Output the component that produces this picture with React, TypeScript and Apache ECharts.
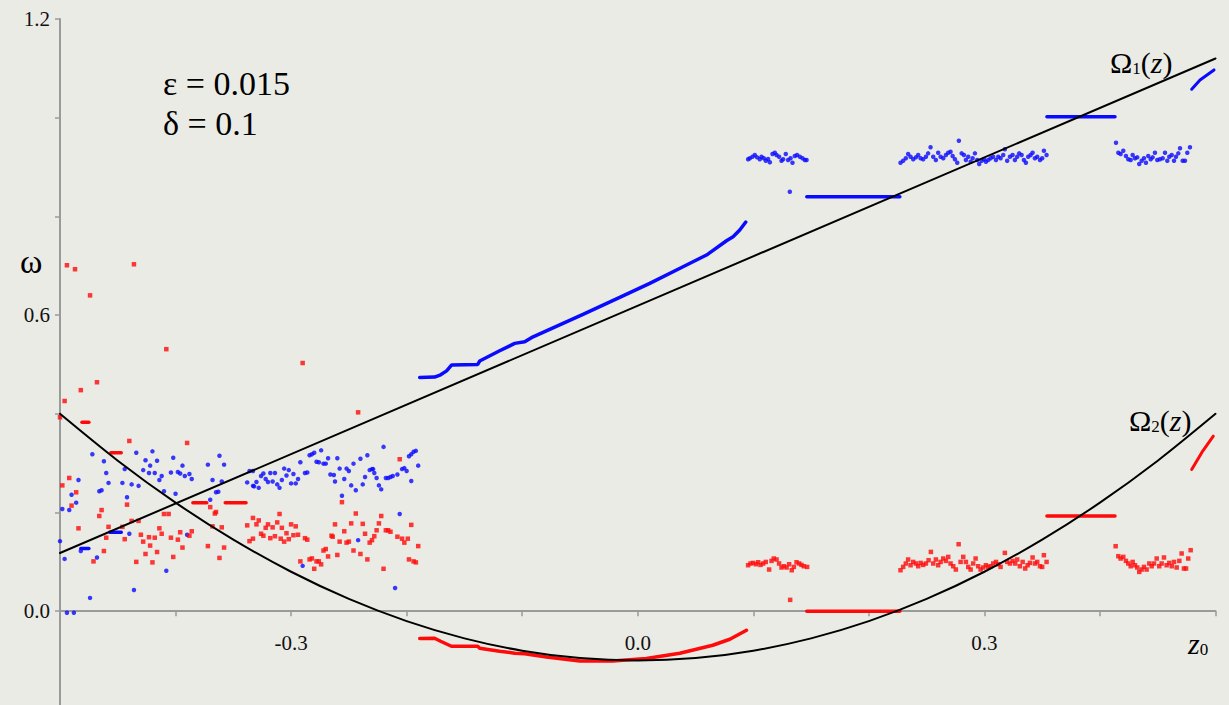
import React, { useEffect, useRef } from "react";
import * as echarts from "echarts";

type P = [number, number];
type Seg = [number, number, number];

// ---------- axes ----------
const xTicks = [-0.4, -0.3, -0.2, -0.1, 0, 0.1, 0.2, 0.3, 0.4, 0.5];
const xLabels = [-0.3, 0, 0.3];
const yTicks = [0, 0.2, 0.4, 0.6, 0.8, 1.0, 1.2];
const yLabels = [0, 0.6, 1.2];
const Y_MIN = -0.19;
const Y_MAX = 1.2;

// ---------- theoretical curves ----------
const omega1: P[] = [[-0.5, 0.118], [0.5, 1.12]];
const omega2: P[] = [
  [-0.5, 0.4], [-0.45, 0.305], [-0.4, 0.22], [-0.35, 0.145], [-0.3, 0.08], [-0.25, 0.025],
  [-0.2, -0.02], [-0.15, -0.055], [-0.1, -0.08], [-0.05, -0.095], [0, -0.1], [0.05, -0.095],
  [0.1, -0.08], [0.15, -0.055], [0.2, -0.02], [0.25, 0.025], [0.3, 0.08], [0.35, 0.145],
  [0.4, 0.22], [0.45, 0.305], [0.5, 0.4],
];

// ---------- blue (omega 1) ----------
const blueLeft: P[] = [
  [-0.494, -0.003], [-0.488, -0.003], [-0.474, 0.027], [-0.436, 0.043], [-0.408, 0.082], [-0.496, 0.106],
  [-0.468, 0.109], [-0.5, 0.142], [-0.482, 0.122], [-0.44, 0.157], [-0.39, 0.155], [-0.498, 0.207],
  [-0.492, 0.205], [-0.486, 0.22], [-0.49, 0.236], [-0.466, 0.243], [-0.464, 0.245], [-0.442, 0.231],
  [-0.4, 0.238], [-0.41, 0.243], [-0.37, 0.226], [-0.365, 0.241], [-0.363, 0.242], [-0.36, 0.263],
  [-0.368, 0.266], [-0.338, 0.261], [-0.333, 0.254], [-0.484, 0.266], [-0.458, 0.26], [-0.446, 0.26],
  [-0.438, 0.257], [-0.432, 0.254], [-0.414, 0.266], [-0.386, 0.268], [-0.46, 0.28], [-0.444, 0.288],
  [-0.428, 0.286], [-0.423, 0.28], [-0.418, 0.28], [-0.412, 0.274], [-0.404, 0.281], [-0.398, 0.282],
  [-0.396, 0.279], [-0.392, 0.274], [-0.388, 0.278], [-0.462, 0.304], [-0.422, 0.295], [-0.416, 0.305],
  [-0.426, 0.306], [-0.394, 0.295], [-0.372, 0.297], [-0.358, 0.297], [-0.472, 0.318], [-0.434, 0.321],
  [-0.42, 0.324], [-0.402, 0.311], [-0.362, 0.315], [-0.336, 0.284], [-0.333, 0.284],
  [-0.332, 0.253], [-0.328, 0.25], [-0.33, 0.262], [-0.326, 0.274], [-0.324, 0.279], [-0.322, 0.268],
  [-0.32, 0.262], [-0.318, 0.28], [-0.314, 0.28], [-0.316, 0.263], [-0.312, 0.257], [-0.31, 0.25],
  [-0.308, 0.266], [-0.306, 0.289], [-0.302, 0.286], [-0.304, 0.275], [-0.298, 0.278], [-0.3, 0.259],
  [-0.296, 0.259], [-0.294, 0.268], [-0.292, 0.302], [-0.288, 0.28], [-0.286, 0.281], [-0.284, 0.316],
  [-0.282, 0.318], [-0.28, 0.321], [-0.274, 0.326], [-0.278, 0.303], [-0.276, 0.302], [-0.272, 0.299],
  [-0.27, 0.299], [-0.268, 0.31], [-0.266, 0.277], [-0.263, 0.276], [-0.262, 0.263], [-0.26, 0.31],
  [-0.258, 0.289], [-0.256, 0.234], [-0.254, 0.268], [-0.252, 0.289], [-0.25, 0.284], [-0.248, 0.255],
  [-0.246, 0.299], [-0.244, 0.245], [-0.24, 0.309], [-0.238, 0.257], [-0.236, 0.272], [-0.234, 0.316],
  [-0.232, 0.286], [-0.23, 0.288], [-0.229, 0.288], [-0.228, 0.28], [-0.226, 0.27], [-0.224, 0.255],
  [-0.222, 0.247], [-0.22, 0.333], [-0.218, 0.27], [-0.216, 0.27], [-0.214, 0.272], [-0.212, 0.274],
  [-0.208, 0.277], [-0.206, 0.197], [-0.204, 0.288], [-0.202, 0.29], [-0.2, 0.284], [-0.198, 0.314],
  [-0.196, 0.318], [-0.194, 0.323], [-0.192, 0.325], [-0.19, 0.295], [-0.196, 0.264], [-0.242, 0.144],
  [-0.29, 0.092], [-0.21, 0.047],
];
const blueClusterA: P[] = [
  [0.0955, 0.9157], [0.097, 0.9177], [0.0993, 0.921], [0.1013, 0.9244], [0.1033, 0.9197], [0.1056, 0.9157],
  [0.1071, 0.921], [0.1091, 0.9177], [0.1108, 0.9128], [0.1128, 0.9163], [0.1143, 0.9096], [0.1166, 0.9264],
  [0.1186, 0.929], [0.1201, 0.9244], [0.1223, 0.921], [0.1244, 0.9128], [0.1258, 0.9157], [0.1281, 0.9264],
  [0.1301, 0.9142], [0.1322, 0.9177], [0.1339, 0.9088], [0.1359, 0.9224], [0.1379, 0.9244], [0.1403, 0.921],
  [0.1426, 0.9177], [0.1446, 0.9142], [0.1461, 0.9142],
];
const blueClusterB: P[] = [
  [0.2274, 0.9088], [0.2297, 0.9128], [0.232, 0.9177], [0.234, 0.9264], [0.2361, 0.921], [0.2384, 0.9157],
  [0.2407, 0.9197], [0.2427, 0.9244], [0.2448, 0.9177], [0.247, 0.9157], [0.2494, 0.921], [0.2513, 0.9278],
  [0.2534, 0.94], [0.2557, 0.921], [0.258, 0.9142], [0.26, 0.929], [0.2621, 0.921], [0.2644, 0.9177],
  [0.2667, 0.9244], [0.2687, 0.929], [0.2707, 0.9311], [0.2725, 0.9224], [0.2745, 0.9157], [0.2765, 0.9088],
  [0.2779, 0.9534], [0.2803, 0.9278], [0.2823, 0.9244], [0.284, 0.9142], [0.286, 0.921], [0.2881, 0.9108],
  [0.2898, 0.9177], [0.2918, 0.9278], [0.2938, 0.9142], [0.2955, 0.9061], [0.2976, 0.9128], [0.2996, 0.9157],
  [0.3013, 0.9108], [0.3033, 0.9142], [0.3054, 0.9177], [0.3076, 0.921], [0.31, 0.9142], [0.312, 0.921],
  [0.314, 0.9177], [0.3163, 0.9244], [0.3177, 0.936], [0.3197, 0.9128], [0.3221, 0.921], [0.3244, 0.9244],
  [0.3264, 0.9142], [0.3284, 0.921], [0.3301, 0.9278], [0.3322, 0.9244], [0.3342, 0.9142], [0.3359, 0.9088],
  [0.3379, 0.921], [0.34, 0.9244], [0.3417, 0.929], [0.3437, 0.9177], [0.3457, 0.921], [0.3481, 0.9142],
  [0.35, 0.9177], [0.3515, 0.9331], [0.3538, 0.9244],
];
const blueClusterC: P[] = [
  [0.4139, 0.9493], [0.4159, 0.929], [0.4179, 0.9264], [0.4202, 0.9331], [0.4225, 0.9224], [0.4245, 0.9157],
  [0.4266, 0.9142], [0.4283, 0.9244], [0.4303, 0.9177], [0.4323, 0.9197], [0.434, 0.9061], [0.4361, 0.9128],
  [0.4381, 0.9177], [0.4398, 0.9088], [0.4418, 0.9224], [0.4439, 0.9157], [0.4456, 0.9197], [0.4476, 0.929],
  [0.4496, 0.9142], [0.4519, 0.9157], [0.4543, 0.9177], [0.4563, 0.929], [0.4583, 0.9128], [0.46, 0.921],
  [0.4621, 0.9244], [0.4641, 0.9128], [0.4658, 0.921], [0.4678, 0.9278], [0.4693, 0.938], [0.4716, 0.9128],
  [0.4736, 0.9128], [0.4756, 0.929], [0.4779, 0.94],
];
const blueIsolated: P[] = [[0.1316, 0.85]];
const blueStair: P[] = [
  [-0.1887, 0.4737], [-0.1758, 0.4744], [-0.1706, 0.479], [-0.1654, 0.487], [-0.161, 0.499], [-0.1385, 0.5],
  [-0.1368, 0.507], [-0.1195, 0.5277], [-0.1065, 0.5427], [-0.0978, 0.5459], [-0.0906, 0.5561],
  [-0.0474, 0.6015], [-0.0156, 0.6359], [0.0104, 0.6643], [0.0392, 0.698], [0.0595, 0.7217],
  [0.0768, 0.7507], [0.0825, 0.7588], [0.0883, 0.7724], [0.0935, 0.7886],
];
const blueRise: P[] = [[0.4794, 1.0576], [0.4866, 1.0764], [0.4987, 1.0968]];
const blueFlats: Seg[] = [
  [0.1463, 0.2268, 0.84], [0.3541, 0.413, 1.002], [-0.482, -0.475, 0.127], [-0.457, -0.447, 0.16],
];

// ---------- red (omega 2) ----------
const redLeft: P[] = [
  [-0.494, 0.701], [-0.487, 0.693], [-0.436, 0.703], [-0.474, 0.64], [-0.408, 0.531], [-0.468, 0.464],
  [-0.482, 0.448], [-0.496, 0.426], [-0.5, 0.393], [-0.44, 0.345], [-0.39, 0.341], [-0.492, 0.27],
  [-0.498, 0.255], [-0.486, 0.241], [-0.442, 0.216], [-0.49, 0.214], [-0.37, 0.211], [-0.464, 0.205],
  [-0.466, 0.193], [-0.41, 0.197], [-0.406, 0.197], [-0.365, 0.201], [-0.366, 0.198], [-0.333, 0.189],
  [-0.438, 0.183], [-0.432, 0.183], [-0.458, 0.171], [-0.446, 0.171], [-0.484, 0.168], [-0.368, 0.172],
  [-0.36, 0.17], [-0.338, 0.174], [-0.414, 0.168], [-0.386, 0.162], [-0.396, 0.16], [-0.412, 0.157],
  [-0.388, 0.153], [-0.43, 0.155], [-0.46, 0.149], [-0.444, 0.146], [-0.423, 0.15], [-0.418, 0.149],
  [-0.404, 0.149], [-0.398, 0.145], [-0.333, 0.147], [-0.336, 0.142], [-0.428, 0.141], [-0.422, 0.133],
  [-0.394, 0.129], [-0.372, 0.132], [-0.358, 0.129], [-0.462, 0.122], [-0.416, 0.12], [-0.426, 0.116],
  [-0.402, 0.11], [-0.362, 0.108], [-0.471, 0.101], [-0.434, 0.1], [-0.42, 0.099],
  [-0.29, 0.503], [-0.242, 0.403], [-0.206, 0.308], [-0.256, 0.221], [-0.31, 0.197], [-0.328, 0.184],
  [-0.33, 0.176], [-0.32, 0.176], [-0.316, 0.17], [-0.322, 0.169], [-0.312, 0.18], [-0.3, 0.176],
  [-0.296, 0.172], [-0.308, 0.169], [-0.262, 0.176], [-0.248, 0.178], [-0.244, 0.198], [-0.238, 0.177],
  [-0.222, 0.193], [-0.224, 0.178], [-0.196, 0.175], [-0.254, 0.162], [-0.226, 0.164], [-0.218, 0.164],
  [-0.216, 0.164], [-0.214, 0.161], [-0.326, 0.157], [-0.324, 0.153], [-0.304, 0.158], [-0.298, 0.154],
  [-0.294, 0.155], [-0.314, 0.152], [-0.318, 0.148], [-0.309, 0.147], [-0.306, 0.141], [-0.302, 0.146],
  [-0.288, 0.148], [-0.286, 0.145], [-0.265, 0.153], [-0.264, 0.151], [-0.236, 0.157], [-0.228, 0.152],
  [-0.23, 0.144], [-0.232, 0.139], [-0.208, 0.151], [-0.204, 0.147], [-0.202, 0.139], [-0.199, 0.147],
  [-0.258, 0.141], [-0.252, 0.139], [-0.25, 0.141], [-0.27, 0.126], [-0.272, 0.123], [-0.26, 0.114],
  [-0.246, 0.123], [-0.24, 0.116], [-0.234, 0.105], [-0.268, 0.111], [-0.19, 0.132], [-0.198, 0.105],
  [-0.194, 0.101], [-0.192, 0.099], [-0.292, 0.101], [-0.282, 0.107], [-0.284, 0.105], [-0.278, 0.101],
  [-0.276, 0.101], [-0.274, 0.095], [-0.28, 0.086], [-0.22, 0.086],
];
const redClusterA: P[] = [
  [0.0955, 0.0932], [0.0976, 0.0967], [0.0998, 0.0979], [0.1022, 0.0953], [0.1042, 0.0993], [0.1062, 0.0939],
  [0.1085, 0.0967], [0.1108, 0.0999], [0.1137, 0.0845], [0.1158, 0.102], [0.1177, 0.1068], [0.1201, 0.1048],
  [0.1223, 0.0967], [0.1244, 0.0886], [0.1264, 0.0912], [0.1288, 0.0886], [0.131, 0.0953], [0.1333, 0.0831],
  [0.1351, 0.0898], [0.1374, 0.0993], [0.1397, 0.0967], [0.1417, 0.0939], [0.1437, 0.0912], [0.1466, 0.0898],
];
const redClusterB: P[] = [
  [0.2274, 0.0831], [0.2297, 0.0898], [0.232, 0.0967], [0.234, 0.1048], [0.2361, 0.0932], [0.2384, 0.0999],
  [0.2407, 0.0967], [0.2427, 0.0912], [0.2448, 0.0979], [0.247, 0.0939], [0.2494, 0.0967], [0.2517, 0.1034],
  [0.2537, 0.1202], [0.2557, 0.0967], [0.258, 0.1048], [0.26, 0.0932], [0.2621, 0.0999], [0.2644, 0.1068],
  [0.2667, 0.102], [0.2687, 0.1101], [0.2707, 0.0967], [0.273, 0.0912], [0.2753, 0.0845], [0.2777, 0.1358],
  [0.2794, 0.0999], [0.2817, 0.1101], [0.284, 0.0999], [0.286, 0.0898], [0.2881, 0.0845], [0.2903, 0.0967],
  [0.2924, 0.1068], [0.2946, 0.0912], [0.2967, 0.0845], [0.299, 0.0886], [0.3013, 0.0932], [0.3033, 0.0898],
  [0.3054, 0.0912], [0.3076, 0.0967], [0.31, 0.0999], [0.312, 0.0953], [0.314, 0.0898], [0.3177, 0.1182],
  [0.3197, 0.0999], [0.3221, 0.0967], [0.3244, 0.102], [0.3267, 0.0967], [0.3284, 0.1048], [0.3307, 0.0912],
  [0.3331, 0.0999], [0.3353, 0.0866], [0.3374, 0.0932], [0.3394, 0.0979], [0.3417, 0.1089], [0.3437, 0.0967],
  [0.3457, 0.0999], [0.3481, 0.0912], [0.35, 0.0898], [0.3515, 0.1135], [0.3538, 0.0999],
];
const redClusterC: P[] = [
  [0.4136, 0.1318], [0.4159, 0.1115], [0.4179, 0.1068], [0.4202, 0.1101], [0.4225, 0.102], [0.4245, 0.0967],
  [0.4266, 0.0912], [0.4283, 0.0999], [0.4303, 0.0932], [0.4323, 0.0886], [0.434, 0.0797], [0.4361, 0.0845],
  [0.4381, 0.0898], [0.4404, 0.0845], [0.4427, 0.0967], [0.4448, 0.0912], [0.4468, 0.0967], [0.4491, 0.1068],
  [0.4513, 0.0912], [0.4534, 0.0967], [0.4554, 0.1089], [0.4577, 0.0932], [0.46, 0.0979], [0.4621, 0.0912],
  [0.4641, 0.0999], [0.4664, 0.0886], [0.4687, 0.102], [0.4707, 0.117], [0.4727, 0.0866], [0.4745, 0.0866],
  [0.4764, 0.1068], [0.4785, 0.1237],
];
const redIsolated: P[] = [[0.1319, 0.023]];
const redStair: P[] = [
  [-0.1887, -0.0553], [-0.1758, -0.0547], [-0.1706, -0.0608], [-0.1613, -0.0709], [-0.1385, -0.0709],
  [-0.1368, -0.075], [-0.1195, -0.081], [-0.1065, -0.085], [-0.0978, -0.086], [-0.079, -0.0926],
  [-0.0502, -0.1007], [-0.0216, -0.1007], [0.0075, -0.0959], [0.0364, -0.0851], [0.0649, -0.0689],
  [0.0797, -0.0568], [0.0941, -0.0385],
];
const redRise: P[] = [[0.4794, 0.2873], [0.4883, 0.3223], [0.4981, 0.3548]];
const redFlats: Seg[] = [
  [0.1463, 0.2268, 0.0], [0.3541, 0.413, 0.193], [-0.481, -0.475, 0.383], [-0.456, -0.447, 0.321],
  [-0.385, -0.373, 0.22], [-0.357, -0.339, 0.22],
];

const BLUE = "#0a0aff";
const RED = "#ff0a0a";
const SERIF = "Liberation Serif";
const AXIS = "#9a9a9a";
const INK = "#000";

const W = 1229;
const H = 705;
const GRID_TOP = 19;
const GRID_BOTTOM = 0;
// the x axis sits on omega = 0: shift it up from the grid bottom by that distance
const gridH = H - GRID_TOP - GRID_BOTTOM;
const xAxisOffset = -((0 - Y_MIN) / (Y_MAX - Y_MIN)) * gridH;

function lineSeries(data: P[], color: string, width: number, z: number) {
  return {
    type: "line",
    data,
    showSymbol: false,
    symbol: "none",
    smooth: false,
    lineStyle: { color, width, cap: "round" },
    z,
    silent: true,
  };
}

export default function App() {
  const ref = useRef<HTMLDivElement>(null);
  useEffect(() => {
    if (!ref.current) return;
    document.body.style.margin = "0";
    const chart = echarts.init(ref.current, null, { renderer: "svg" });
    const flatSeries = (segs: Seg[], color: string) =>
      segs.map((s) => lineSeries([[s[0], s[2]], [s[1], s[2]]], color, 3.5, 3));
    const rich = (sub: string) => ({
      text: `{a|Ω}{s|${sub}}{a|(}{i|z}{a|)}`,
      rich: {
        a: { fontSize: 30, fontFamily: SERIF, fill: INK, lineHeight: 30 },
        s: { fontSize: 17, fontFamily: SERIF, fill: INK, verticalAlign: "bottom", lineHeight: 16 },
        i: { fontSize: 30, fontFamily: SERIF, fontStyle: "italic", fill: INK, lineHeight: 30 },
      },
    });
    const option: any = {
      animation: false,
      backgroundColor: "#EBEBE6",
      textStyle: { fontFamily: SERIF },
      grid: {
        left: 60,
        right: 13.5,
        top: GRID_TOP,
        bottom: GRID_BOTTOM,
        containLabel: false,
        outerBoundsMode: "none",
      },
      xAxis: {
        type: "value",
        min: -0.5,
        max: 0.5,
        offset: xAxisOffset,
        axisLine: { onZero: false, lineStyle: { color: AXIS, width: 2 } },
        axisTick: { show: true, customValues: xTicks, length: 5, lineStyle: { color: AXIS, width: 1.5 } },
        axisLabel: {
          customValues: xLabels,
          formatter: (v: number) => v.toFixed(1),
          margin: 21,
          fontSize: 21,
          fontFamily: SERIF,
          color: "#111",
        },
        splitLine: { show: false },
      },
      yAxis: {
        type: "value",
        min: Y_MIN,
        max: Y_MAX,
        axisLine: { show: true, onZero: false, lineStyle: { color: AXIS, width: 2 } },
        axisTick: { show: true, customValues: yTicks, length: 5, lineStyle: { color: AXIS, width: 1.5 } },
        axisLabel: {
          customValues: yLabels,
          formatter: (v: number) => v.toFixed(1),
          margin: 10,
          fontSize: 21,
          fontFamily: SERIF,
          color: "#111",
          padding: [6, 0, 0, 0],
        },
        splitLine: { show: false },
      },
      series: [
        {
          type: "scatter",
          data: [...blueLeft, ...blueClusterA, ...blueClusterB, ...blueClusterC, ...blueIsolated],
          symbol: "circle",
          symbolSize: 4.5,
          itemStyle: { color: BLUE },
          z: 2,
          silent: true,
        },
        {
          type: "scatter",
          data: [...redLeft, ...redClusterA, ...redClusterB, ...redClusterC, ...redIsolated],
          symbol: "rect",
          symbolSize: 4.5,
          itemStyle: { color: RED },
          z: 2,
          silent: true,
        },
        lineSeries(blueStair, BLUE, 3.5, 3),
        lineSeries(blueRise, BLUE, 3, 3),
        lineSeries(redStair, RED, 3.5, 3),
        lineSeries(redRise, RED, 3, 3),
        ...flatSeries(blueFlats, BLUE),
        ...flatSeries(redFlats, RED),
        lineSeries(omega1, "#000", 2, 5),
        { ...lineSeries(omega2, "#000", 2, 5), smooth: 0.3 },
      ],
      graphic: [
        { type: "text", left: 163, top: 66, style: { text: "ε = 0.015", fontSize: 34, fontFamily: SERIF, fill: INK } },
        { type: "text", left: 163, top: 106, style: { text: "δ = 0.1", fontSize: 34, fontFamily: SERIF, fill: INK } },
        { type: "text", left: 20, top: 244, style: { text: "ω", fontSize: 34, fontFamily: SERIF, fill: INK } },
        { type: "text", left: 1110, top: 47, style: rich("1") },
        { type: "text", left: 1129, top: 405, style: rich("2") },
        {
          type: "text",
          left: 1188,
          top: 628,
          style: {
            text: "{i|z}{s|0}",
            rich: {
              i: { fontSize: 30, fontFamily: SERIF, fontStyle: "italic", fill: INK, lineHeight: 30 },
              s: { fontSize: 17, fontFamily: SERIF, fill: INK, verticalAlign: "bottom", lineHeight: 8 },
            },
          },
        },
      ],
    };
    chart.setOption(option);
    return () => chart.dispose();
  }, []);
  return (
    <div
      ref={ref}
      style={{ position: "absolute", left: 0, top: 0, width: W, height: H, background: "#EBEBE6" }}
    />
  );
}
